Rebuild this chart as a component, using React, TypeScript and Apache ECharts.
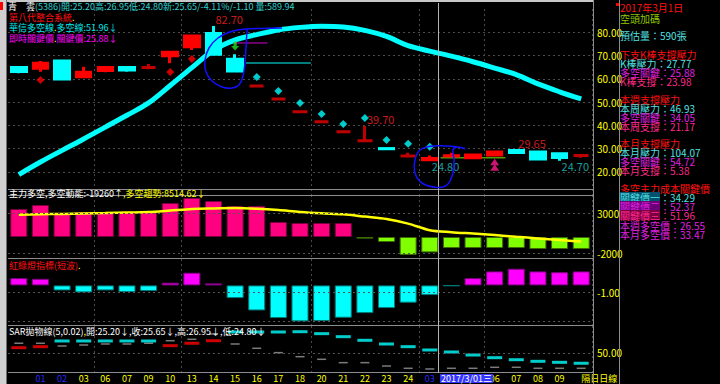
import React, { useEffect, useRef } from 'react';
import * as echarts from 'echarts';

// ---------- data ----------
const TICK_LABELS = ['', '01', '02', '03', '06', '07', '09', '10', '13', '14', '15', '16', '17', '18', '20', '21', '22', '23', '24', '03', '', '', '06', '07', '08', '09', '隔日日線'];
const BLUE_TICKS = [1, 2, 19];
const WEEK_STARTS = [4, 8, 14, 19, 22];
const CURSOR = 19;
const CURSOR_DATE = '2017/3/01三';

const OPEN = [64.8, 64.5, 67.6, 60.9, 63.5, 64.8, 64.8, 69.9, 73.8, 79.5, 68.4, 56.9, 51.3, 45.8, 41.5, 37.2, 33.3, 29.95, 26.75, 25.2, 26.8, 26.0, 27.2, 29.15, 28.45, 27.7, 27.0];
const CLOSE = [63.1, 66.7, 59.9, 62.8, 64.8, 63.8, 64.8, 71.4, 78.4, 70.5, 63.3, 56.9, 51.3, 45.8, 41.5, 37.2, 33.3, 29.9, 26.75, 25.65, 26.9, 27.2, 28.45, 28.3, 25.45, 26.1, 27.0];
const LOW = [62.4, 63.0, 59.9, 60.9, 62.8, 63.0, 64.1, 66.7, 72.4, 70.5, 63.3, 56.9, 51.3, 45.8, 41.5, 37.2, 33.3, 29.9, 26.6, 24.8, 26.8, 26.0, 27.2, 28.3, 25.45, 24.7, 26.0];
const HIGH = [64.8, 67.6, 68.0, 65.2, 64.8, 65.5, 66.3, 71.4, 78.4, 82.7, 70.5, 56.9, 51.3, 45.8, 41.5, 37.2, 39.7, 29.95, 28.2, 26.95, 28.2, 27.3, 28.6, 29.65, 28.45, 27.7, 27.0];

const LONG_SHORT_LINE = [18.8, 24.2, 29.2, 34.1, 39.2, 44.3, 49.6, 57.1, 64.8, 72.2, 76.7, 79.0, 81.0, 82.1, 82.6, 82.3, 80.8, 78.2, 74.2, 71.9, 69.7, 67.3, 64.6, 61.8, 57.8, 54.4, 51.3];
const SAR_DOTS: (number | null)[] = [null, 59.5, null, null, null, null, null, 62.9, 68.5, null, null, 60.8, 54.7, 49.6, 44.8, 40.5, 43.1, 33.7, 32.0, 30.7, null, null, null, null, null, null, null];
const LEVELS = [[10, 11, 75.4], [11, 13, 66.8], [20, 22, 26.0]];
const HIGH_MARKS = [9, 16, 23];
const LOW_MARKS = [19, 25];
const SELL_SIGNALS = [[10, 74.1]];
const BUY_SIGNALS = [[22, 23.0]];
const CURRENT_MARK = 76.9;

const FLOW = [35000, 40000, 28750, 31250, 31250, 31250, 32500, 42500, 48750, 45000, 38750, 38750, 18750, 17500, 17500, 17500, -2000, -6250, -22500, -19260, -13750, -13750, -13750, -13750, -15000, -15000, -15000];
const FLOW_TREND = [27750, 28400, 28900, 29500, 30000, 30600, 31250, 33100, 35100, 35750, 36100, 35250, 33600, 31250, 29600, 28400, 25500, 22500, 16750, 8514.62, 6000, 4250, 2400, 250, -1750, -3750, -5600];
const FLOW_MARK = 50523.1;

const LIGHT = [1.1, 1.0, -0.76, -1.06, -0.76, -1.0, -0.86, 0.41, 1.92, 0.3, -1.92, -3.79, -4.95, -5.45, -5.4, -4.9, -4.2, -3.44, -2.62, -1.47, -0.08, 1.1, 2.12, 2.53, 2.12, 2.0, 2.12];

const SAR_PANEL = [57.7, 59.2, 67.7, 67.7, 67.7, 67.7, 67.7, 60.7, 64.3, 68.1, 81.1, 81.1, 81.1, 81.5, 78.6, 74.1, 68.7, 63.2, 59.2, 54.3, 51.3, 46.8, 42.8, 39.8, 37.4, 35.9, 34.5];
const SAR_PRICE = [64.3, 64.3, 60.2, 61.7, 63.2, 63.2, 64.3, 68.1, 70.2, 78.1, 63.2, 56.8, 50.3, 44.3, 40.4, 35.4, 35.4, 30.4, 27.0, 26.0, 27.0, 27.0, 28.5, 28.5, 27.0, 27.0, 27.0];

const RIGHT_TEXTS = [
  '2017年3月1日', '空頭加碼', '預估量：590張',
  '下支K棒支撐壓力', 'K棒壓力：27.77', '多空關鍵：25.88', 'K棒支撐：23.98',
  '本週支撐壓力', '本周壓力：46.93', '多空關鍵：34.05', '本周支撐：21.17',
  '本月支撐壓力', '本月壓力：104.07', '多空關鍵：54.72', '本月支撐：5.38',
  '多空主力成本關鍵價', '關鍵價一：34.29', '關鍵價二：52.37', '關鍵價三：51.96',
  '本週多空價：26.55', '本月多空價：33.47',
];

// ---------- styles ----------
const FONT = '"Liberation Sans Narrow", "Noto Sans CJK TC", "Noto Sans CJK SC", sans-serif';
const UP = '#ff0000';
const DOWN = '#00ffff';
const DOJI = '#c00000';
const GRID_C = '#4a4a4a';
const SEP_C = '#8c8c8c';
const YEL = '#ffff00';

const RED_T = '#ff1010';
const CYAN_T = '#50e0e0';
const MAG_T = '#e020e0';
const PINK_T = '#ff2a8a';
const GREEN_T = '#90c800';
const RIGHT_COLORS = [RED_T, GREEN_T, CYAN_T, RED_T, CYAN_T, MAG_T, PINK_T, RED_T, CYAN_T, MAG_T, PINK_T, RED_T, CYAN_T, MAG_T, PINK_T, RED_T, CYAN_T, MAG_T, PINK_T, MAG_T, MAG_T];
const RIGHT_Y = [7, 18, 35, 54, 63, 72, 81, 99, 108, 117, 126, 143, 152, 161, 170, 188, 197, 206, 215, 225, 234];

const fmt2 = (v: number) => v.toFixed(2);

export default function App() {
  const ref = useRef<HTMLDivElement>(null);
  useEffect(() => {
    const chart = echarts.init(ref.current as HTMLDivElement, undefined, { renderer: 'svg' });
    const n = OPEN.length;

    const cats = TICK_LABELS.map((t, i) => ({
      value: String(i),
      textStyle: i === n - 1
        ? { color: YEL, align: 'left' }
        : { color: BLUE_TICKS.includes(i) ? '#2626ff' : YEL },
    }));

    const tops = [9, 195, 259, 326];
    const bottoms = [195, 258, 325, 373];
    const grids = tops.map((top, g) => ({ left: 8, right: 128, top, height: bottoms[g] - top }));

    const xAxes = [0, 1, 2, 3].map((g) => ({
      type: 'category',
      gridIndex: g,
      data: cats,
      boundaryGap: true,
      axisLine: { show: false },
      axisTick: { show: false },
      axisLabel: g === 3
        ? { show: true, interval: 0, formatter: (_v: string, i: number) => TICK_LABELS[i], fontSize: 9, fontFamily: FONT, margin: 1, lineHeight: 9 }
        : { show: false },
      splitLine: { show: true, interval: (i: number) => WEEK_STARTS.includes(i), lineStyle: { color: GRID_C, type: [2, 3], width: 1 } },
    }));

    const labelBase = { color: YEL, fontSize: 10, fontFamily: FONT, margin: 5 };
    const yAxes = [
      {
        gridIndex: 0, type: 'value', position: 'right', min: 10, max: 90, interval: 10,
        axisLine: { show: false }, axisTick: { show: false },
        axisLabel: { ...labelBase, formatter: (v: number) => (v >= 20 && v <= 80 ? fmt2(v) : '') },
        splitLine: { show: true, showMinLine: false, showMaxLine: false, lineStyle: { color: GRID_C, type: [2, 3] } },
      },
      {
        gridIndex: 1, type: 'value', position: 'right', min: -26250, max: 52500,
        axisLine: { show: false }, axisTick: { show: false }, axisLabel: { show: false }, splitLine: { show: false },
      },
      {
        gridIndex: 2, type: 'value', position: 'right', min: -6, max: 4, interval: 1,
        axisLine: { show: false }, axisTick: { show: false },
        axisLabel: { ...labelBase, formatter: (v: number) => (v === -1 ? fmt2(v) : '') },
        splitLine: { show: false },
      },
      {
        gridIndex: 3, type: 'value', position: 'right', min: 20, max: 90, interval: 10,
        axisLine: { show: false }, axisTick: { show: false },
        axisLabel: { ...labelBase, formatter: (v: number) => (v === 50 ? fmt2(v) : '') },
        splitLine: { show: false },
      },
    ];

    const candleData = OPEN.map((o, i) => {
      const c = CLOSE[i];
      const col = c > o ? UP : c < o ? DOWN : DOJI;
      return {
        value: [o, c, LOW[i], HIGH[i]],
        itemStyle: { color: col, color0: col, borderColor: col, borderColor0: col, borderColorDoji: col },
      };
    });

    const dashed = { color: '#555555', type: [2, 3], width: 1 };

    const series: any[] = [
      {
        type: 'candlestick', name: 'K', xAxisIndex: 0, yAxisIndex: 0,
        barWidth: 15, data: candleData,
        itemStyle: { borderWidth: 3 },
        markLine: {
          silent: true, symbol: 'none', animation: false,
          data: [{
            yAxis: CURRENT_MARK,
            lineStyle: { opacity: 0 },
            label: { show: true, position: 'end', distance: 3, formatter: fmt2(CURRENT_MARK), color: '#ffffff', backgroundColor: '#2a2aff', borderColor: '#ffffff', borderWidth: 1, padding: [0, 1], fontSize: 10, fontFamily: FONT },
          }],
        },
        z: 3,
      },
      {
        type: 'line', name: '華信多空線', xAxisIndex: 0, yAxisIndex: 0,
        data: LONG_SHORT_LINE, symbol: 'none', smooth: 0.35,
        lineStyle: { color: '#00ffff', width: 5 }, z: 4,
      },
      {
        type: 'scatter', name: 'SAR', xAxisIndex: 0, yAxisIndex: 0,
        symbol: 'diamond', symbolSize: 8,
        data: SAR_DOTS.map((v, i) => (v == null ? null : { value: [i, v], itemStyle: { color: v < CLOSE[i] ? '#ff0000' : '#00ffff' } })).filter(Boolean),
        z: 5,
      },
      {
        type: 'custom', name: 'levels', xAxisIndex: 0, yAxisIndex: 0,
        data: LEVELS,
        encode: { x: [0, 1], y: 2 },
        renderItem: (params: any, api: any) => {
          const s = api.coord([api.value(0), api.value(2)]);
          const e = api.coord([api.value(1), api.value(2)]);
          const w = api.size([1, 0])[0];
          const cols = ['#8a008a', '#00a8a8', '#50a000'];
          return {
            type: 'line',
            shape: { x1: s[0] - w / 2, y1: s[1], x2: e[0] + w / 2, y2: e[1] },
            style: { stroke: cols[params.dataIndex], lineWidth: 1.5 },
          };
        },
        z: 2,
      },
      {
        type: 'scatter', name: 'highs', xAxisIndex: 0, yAxisIndex: 0, symbolSize: 0, silent: true,
        data: HIGH_MARKS.map((i) => [i, HIGH[i]]),
        label: { show: true, position: 'top', distance: 1, align: 'left', offset: [2, 0], formatter: (p: any) => fmt2(p.value[1]), color: '#ff2020', fontSize: 11, fontFamily: FONT },
        z: 6,
      },
      {
        type: 'scatter', name: 'lows', xAxisIndex: 0, yAxisIndex: 0, symbolSize: 0, silent: true,
        data: LOW_MARKS.map((i) => [i, LOW[i]]),
        label: { show: true, position: 'bottom', distance: 0, align: 'left', offset: [2, 0], formatter: (p: any) => fmt2(p.value[1]), color: '#20c8c8', fontSize: 11, fontFamily: FONT },
        z: 6,
      },
      {
        type: 'scatter', name: 'sell', xAxisIndex: 0, yAxisIndex: 0,
        symbol: 'path://M3,0 L7,0 L7,5 L10,5 L5,10 L0,5 L3,5 Z', symbolSize: [8, 9],
        itemStyle: { color: '#20e020' }, data: SELL_SIGNALS, z: 6,
      },
      {
        type: 'scatter', name: 'buy', xAxisIndex: 0, yAxisIndex: 0,
        symbol: 'path://M5,0 L10,6 L0,6 Z M5,5 L10,11 L0,11 Z', symbolSize: [9, 12],
        itemStyle: { color: '#ff1a8c' }, data: BUY_SIGNALS, z: 6,
      },
      // flow panel
      {
        type: 'bar', name: '多空動能', xAxisIndex: 1, yAxisIndex: 1, barWidth: 17,
        data: FLOW.map((v) => ({ value: v, itemStyle: v >= 0 ? { color: '#ff0080', borderColor: '#7a0040', borderWidth: 1 } : { color: '#80ff00', borderColor: '#3c6a00', borderWidth: 1 } })),
        markLine: {
          silent: true, symbol: 'none', animation: false,
          lineStyle: dashed,
          label: { show: true, position: 'end', distance: 5, color: YEL, fontSize: 10, fontFamily: FONT },
          data: [
            { yAxis: 30000, label: { formatter: '30000' } },
            { yAxis: -20000, label: { formatter: '-2000' } },
            { yAxis: FLOW_MARK, lineStyle: { opacity: 0 }, label: { formatter: String(FLOW_MARK), color: '#ffffff', backgroundColor: '#2a4aff', padding: [0, 1], distance: 2, fontSize: 9 } },
          ],
        },
      },
      {
        type: 'line', name: '多空趨勢', xAxisIndex: 1, yAxisIndex: 1,
        data: FLOW_TREND, symbol: 'none', smooth: 0.3,
        lineStyle: { color: '#ffff00', width: 2.5 }, z: 4,
      },
      // red-green light panel
      {
        type: 'bar', name: '紅綠燈', xAxisIndex: 2, yAxisIndex: 2, barWidth: 17,
        data: LIGHT.map((v) => ({ value: v, itemStyle: v >= 0 ? { color: '#ff00ff', borderColor: '#800080', borderWidth: 1 } : { color: '#00ffff', borderColor: '#007878', borderWidth: 1 } })),
        markLine: {
          silent: true, symbol: 'none', animation: false, lineStyle: dashed, label: { show: false },
          data: [{ yAxis: -1 }, { yAxis: -5.5 }],
        },
      },
      // SAR panel
      {
        type: 'scatter', name: 'price', xAxisIndex: 3, yAxisIndex: 3,
        symbol: 'rect', symbolSize: [9, 1.5], itemStyle: { color: '#9a9a9a' },
        data: SAR_PRICE.map((v, i) => [i, v]),
        markLine: {
          silent: true, symbol: 'none', animation: false, lineStyle: dashed, label: { show: false },
          data: [{ yAxis: 50 }],
        },
      },
      {
        type: 'scatter', name: 'SAR拋物線', xAxisIndex: 3, yAxisIndex: 3,
        symbol: 'rect', symbolSize: [15, 3],
        data: SAR_PANEL.map((v, i) => ({ value: [i, v], itemStyle: { color: v < SAR_PRICE[i] ? '#ff0000' : '#00ffff' } })),
      },
    ];

    // ---------- decorations ----------
    const t = (x: number, y: number, text: string, rich: any, fs = 9) => ({
      type: 'text', x, y, z: 20,
      style: { text, rich, fontSize: fs, fontFamily: FONT, fill: '#ffffff', verticalAlign: 'middle' },
    });
    const rs = (fill: string, extra: any = {}, fs = 9) => ({ fill, fontSize: fs, fontFamily: FONT, lineHeight: 9, ...extra });
    const line = (x1: number, y1: number, x2: number, y2: number, stroke = SEP_C, w = 1) => ({
      type: 'line', z: 15, shape: { x1, y1, x2, y2 }, style: { stroke, lineWidth: w },
    });

    const chg = CLOSE[CURSOR] - CLOSE[CURSOR - 1];
    const pct = (chg / CLOSE[CURSOR - 1]) * 100;
    const ohlcText = `開:${fmt2(OPEN[CURSOR])}高:${fmt2(HIGH[CURSOR])}低:${fmt2(LOW[CURSOR])}新:${fmt2(CLOSE[CURSOR])}/${pct.toFixed(2)}%/${fmt2(chg)} 量:589.94`;

    const graphics: any[] = [
      { type: 'rect', z: 14, shape: { x: 0, y: 0, width: 6, height: 384 }, style: { fill: '#d0d0d0' } },
      line(6.5, 0, 6.5, 384, '#707070'),
      { type: 'rect', z: 14, shape: { x: 7, y: 0, width: 586, height: 2 }, style: { fill: '#c8c8c8' } },
      { type: 'rect', z: 16, shape: { x: 0, y: 2, width: 3, height: 8 }, style: { fill: '#ff0000' } },
      line(8, 189.5, 593, 189.5),
      line(8, 195.5, 593, 195.5),
      line(8, 258.5, 593, 258.5),
      line(8, 325.5, 593, 325.5),
      line(8, 372.5, 593, 372.5),
      line(593.5, 0, 593.5, 384),
      line(619.5, 0, 619.5, 384),
      { type: 'rect', z: 16, shape: { x: 616, y: 3, width: 3, height: 3 }, style: { fill: '#ff0000' } },
      // cursor
      line(438.5, 3, 438.5, 373, '#b4b4b4'),
      t(440, 378.5, `{d|${CURSOR_DATE}}`, { d: rs('#ffffff', { backgroundColor: '#3434ff', padding: [0, 1] }) }),
      // header rows
      t(8, 6, `{w|青　雲}{c|(5386)${ohlcText}}`, { w: rs('#ffffff'), c: rs('#30d0d0') }),
      t(9, 17, '{r|第八代整合系統}{y|.}', { r: rs('#ff1010'), y: rs('#ffff00') }),
      t(9, 27.5, '{c|華信多空線}{y|.}{c|多空線:51.96↓}', { c: rs('#00e8e8'), y: rs('#ffff00') }),
      t(9, 38, '{m|即時關鍵價}{y|.}{m|關鍵價:25.88↓}', { m: rs('#ff00ff'), y: rs('#ffff00') }),
      t(9, 193, `{w|主力多空,多空動能:${FLOW[CURSOR]}↑}{y|,多空趨勢:${fmt2(FLOW_TREND[CURSOR])}↓}`, { w: rs('#ffffff'), y: rs('#ffff00') }),
      t(9, 265, '{r|紅綠燈指標(短波)}{y|.}', { r: rs('#ff1010'), y: rs('#ffff00') }),
      t(9, 331, `{w|SAR拋物線(5,0.02)}{y|,}{w|開:${fmt2(OPEN[CURSOR])}↓,收:${fmt2(CLOSE[CURSOR])}↓,高:${fmt2(HIGH[CURSOR])}↓,低:${fmt2(LOW[CURSOR])}↓}`, { w: rs('#ffffff'), y: rs('#ffff00') }),
      // annotation loops
      {
        type: 'polyline', z: 18,
        shape: { smooth: 0.4, points: [[282, 28], [262, 28.5], [247, 29], [233, 31], [218, 38], [209, 48], [205, 60], [206, 72], [212, 81], [222, 87], [232, 88], [239, 85], [243, 76], [245, 63], [246, 47], [247, 30]] },
        style: { stroke: '#1010ff', lineWidth: 1.5, fill: null },
      },
      {
        type: 'polyline', z: 18,
        shape: { smooth: 0.4, points: [[465, 148.5], [455, 146.5], [433, 146], [420, 150], [415, 160], [415, 173], [422, 183], [437, 187.5], [447, 185], [453, 173], [454, 160], [453, 150], [457, 147], [465, 149]] },
        style: { stroke: '#1010ff', lineWidth: 1.5, fill: null },
      },
    ];

    RIGHT_TEXTS.forEach((txt, i) => {
      const col = RIGHT_COLORS[i];
      if (i >= 16 && i <= 18) {
        const [head, tail] = txt.split('：');
        const bgs = ['#00506e', '#6a0078', '#7a0044'];
        graphics.push(t(620, RIGHT_Y[i], `{h|${head}}{v|：${tail}}`, { h: rs(col, { backgroundColor: bgs[i - 16] }, 10), v: rs(col, {}, 10) }, 10));
      } else {
        graphics.push(t(620, RIGHT_Y[i], `{a|${txt}}`, { a: rs(col, {}, 10) }, 10));
      }
    });

    chart.setOption({
      animation: false,
      backgroundColor: '#000000',
      grid: grids,
      xAxis: xAxes,
      yAxis: yAxes,
      series,
      graphic: graphics,
    });
    return () => chart.dispose();
  }, []);
  return <div ref={ref} style={{ position: 'fixed', left: 0, top: 0, width: 720, height: 384, background: '#000' }} />;
}
